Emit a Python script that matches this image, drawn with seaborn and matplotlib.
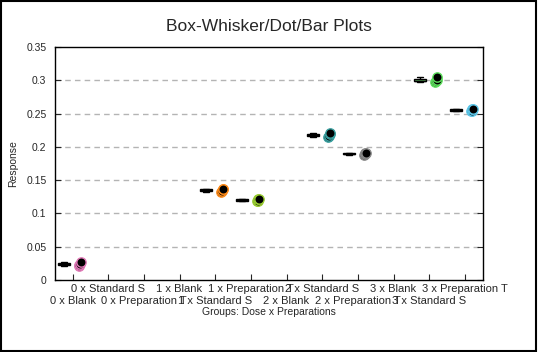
## Box-whisker / dot plot of response by dose x preparation group.
import pandas as pd
import matplotlib.pyplot as plt
import seaborn as sns
import numpy as np

# Category axis (12 groups) and the groups that carry data.
categories = ["0 x Blank", "0 x Standard S", "0 x Preparation T",
              "1 x Blank", "1 x Standard S", "1 x Preparation T",
              "2 x Blank", "2 x Standard S", "2 x Preparation T",
              "3 x Blank", "3 x Standard S", "3 x Preparation T"]
data_groups = ["0 x Blank", "1 x Standard S", "1 x Preparation T",
               "2 x Standard S", "2 x Preparation T",
               "3 x Standard S", "3 x Preparation T"]
# Replicate responses per group.
rep_0_blank = [0.0215, 0.0225, 0.0245, 0.0265]
rep_1_std = [0.132, 0.1335, 0.1365, 0.137]
rep_1_prep = [0.1185, 0.119, 0.121, 0.1215]
rep_2_std = [0.2155, 0.2165, 0.2195, 0.2205]
rep_2_prep = [0.1885, 0.189, 0.191, 0.1915]
rep_3_std = [0.2975, 0.2985, 0.3005, 0.3045]
rep_3_prep = [0.2535, 0.2545, 0.2565, 0.2575]
group_colors = ["#e27ab8", "#ff8c1a", "#9acd32", "#3aa0a0", "#8a8a8a", "#5ee05e", "#5ec8ea"]

y_ticks = [0, 0.05, 0.1, 0.15, 0.2, 0.25, 0.3, 0.35]
y_tick_labels = ["0", "0.05", "0.1", "0.15", "0.2", "0.25", "0.3", "0.35"]

reps = [rep_0_blank, rep_1_std, rep_1_prep, rep_2_std, rep_2_prep, rep_3_std, rep_3_prep]
rows = []
for g, vals in zip(data_groups, reps):
    for v in vals:
        rows.append({"group": g, "idx": categories.index(g), "Response": v})
df = pd.DataFrame(rows)
df["box_x"] = df["idx"] - 0.25
df["dot_x"] = df["idx"] + 0.2

sns.set_style("ticks")
plt.rcParams['font.family'] = ['Liberation Sans', 'DejaVu Sans']

fig = plt.figure(figsize=(5.38, 3.52), dpi=100)
ax = fig.add_axes([0.1017, 0.2045, 0.7955, 0.662])

for y in y_ticks[1:-1]:
    ax.axhline(y, color="#b4b4b4", lw=1, ls=(0, (4, 3)), zorder=0)

sns.boxplot(data=df, x="box_x", y="Response", hue="group", palette=group_colors,
            native_scale=True, width=0.34, dodge=False, legend=False,
            linecolor="black", linewidth=1.0, whis=10, ax=ax)

for g, c in zip(data_groups, group_colors):
    sub = df[df["group"] == g]
    offs = np.array([-0.03, -0.01, 0.01, 0.03])[:len(sub)]
    sns.scatterplot(x=sub["dot_x"].values + offs, y=sub["Response"].values, color="black",
                    edgecolor=c, linewidth=1, s=45, ax=ax, zorder=5, legend=False)

ax.set_xlim(-0.5, 11.5)
ax.set_ylim(0, 0.35)
ax.set_xticks(range(len(categories)))
ax.set_xticklabels([c if i % 2 else "\n" + c for i, c in enumerate(categories)], fontsize=8)
ax.set_yticks(y_ticks)
ax.set_yticklabels(y_tick_labels, fontsize=7.5)
ax.tick_params(axis="x", direction="in", length=4, pad=3)
ax.tick_params(axis="y", which="both", left=True, right=True, direction="in", length=4, pad=6)
for s in ax.spines.values():
    s.set_color("black")
    s.set_linewidth(1)

ax.set_xlabel("Groups: Dose x Preparations", fontsize=7.5, labelpad=1)
ax.set_ylabel("Response", fontsize=7.5)
ax.yaxis.set_label_coords(-0.085, 0.5)
fig.suptitle("Box-Whisker/Dot/Bar Plots", fontsize=12.5, y=0.945)

# Outer frame around the whole figure.
fig.patches.append(plt.Rectangle((0.002, 0.003), 0.995, 0.994, transform=fig.transFigure,
                                 fill=False, edgecolor="black", lw=1.5))

plt.savefig("out.png", dpi=100)
